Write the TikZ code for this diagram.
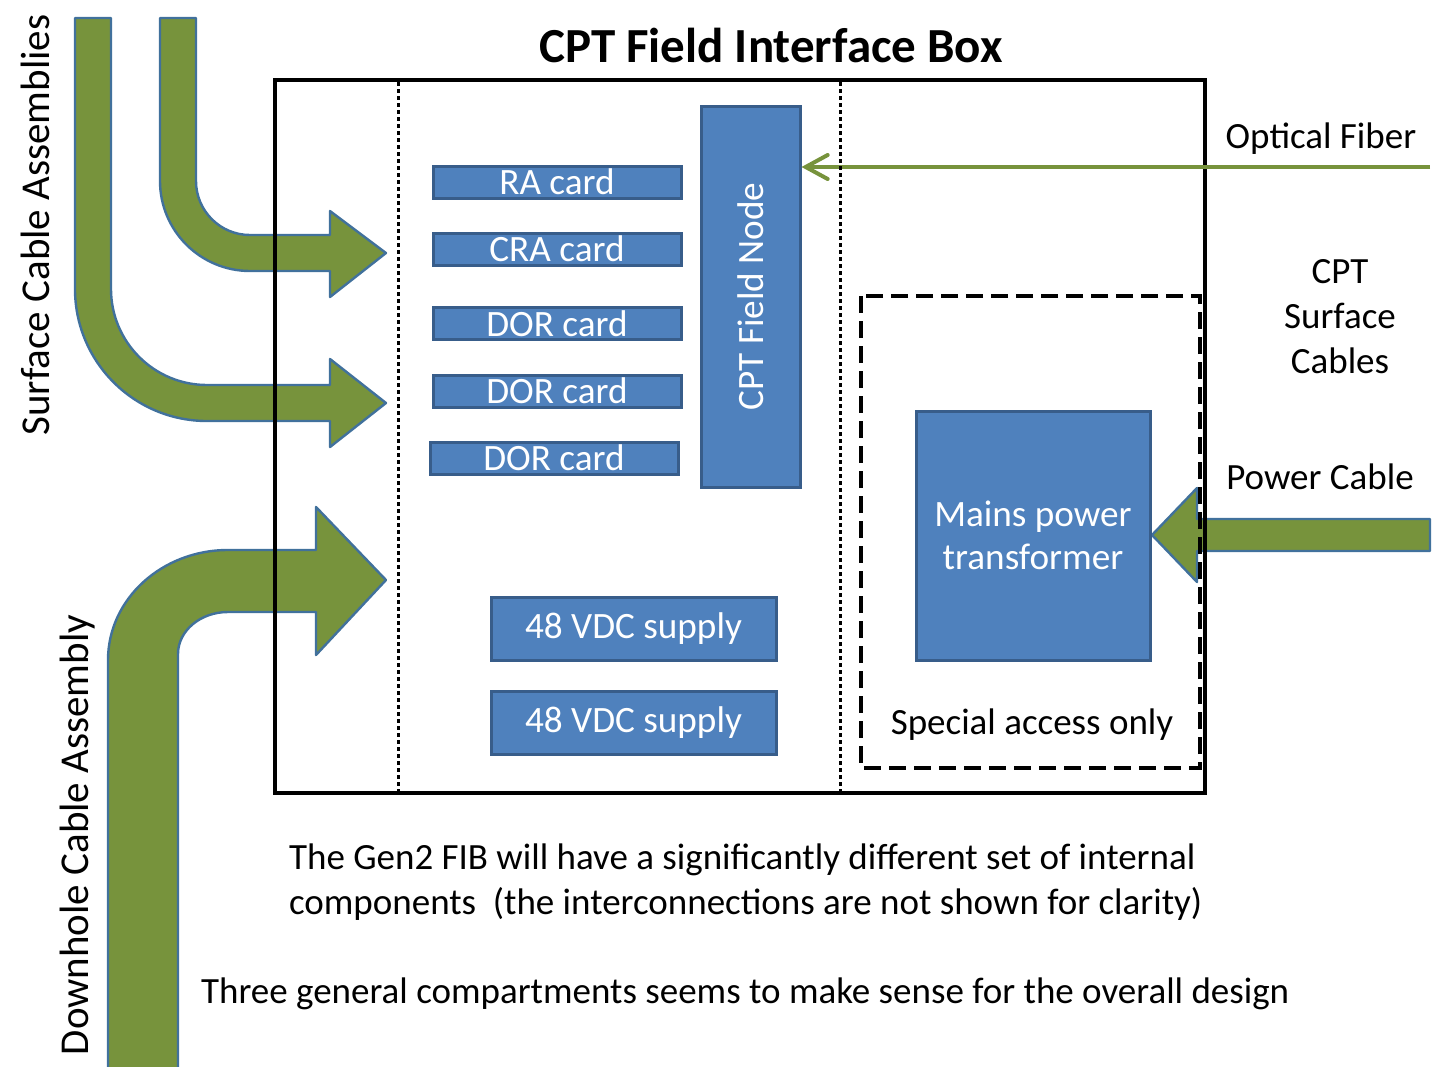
\documentclass[tikz,border=0pt]{standalone}
\usepackage{fontspec}
\setmainfont{Carlito}
\usetikzlibrary{arrows.meta}
\definecolor{partblue}{HTML}{4F81BD}
\definecolor{partedge}{HTML}{385D8A}
\definecolor{cablegreen}{HTML}{77933C}
\definecolor{cableedge}{HTML}{41719C}

\begin{document}
\begin{tikzpicture}[
  x=0.5pt, y=-0.5pt,
  part/.style={draw=partedge, fill=partblue, line width=1.5pt, text=white, inner sep=0pt, font=\fontsize{18.6}{21.5}\selectfont},
  cable/.style={draw=cableedge, fill=cablegreen, line width=1.2pt, line join=round},
  lbl/.style={font=\fontsize{18.5}{22.5}\selectfont, align=center},
  divider/.style={line width=1.5pt, dash pattern=on 2pt off 1.5pt},
  fiberline/.style={-{Straight Barb[length=11pt, width=12pt, line width=2pt, line cap=round]}, draw=cablegreen, line width=2pt}
]
  \useasboundingbox (0,0) rectangle (1440,1066);

  % cable assemblies entering from the left
  \path[cable] (160,18) -- (196,18) -- (196,181) arc[start angle=180, end angle=90, radius=54]
    -- (330,235) -- (330,211) -- (386,253) -- (330,297) -- (330,271) -- (250,271)
    arc[start angle=90, end angle=180, radius=90] -- cycle;
  \path[cable] (75,18) -- (111,18) -- (111,289) arc[start angle=180, end angle=90, radius=96]
    -- (330,385) -- (330,359) -- (386,403) -- (330,447) -- (330,421) -- (207,421)
    arc[start angle=90, end angle=180, radius=132] -- cycle;
  \path[cable] (108,1070) -- (108,660) arc[start angle=180, end angle=270, x radius=120, y radius=110]
    -- (316,550) -- (316,507) -- (386,580) -- (316,655) -- (316,612) -- (228,612)
    arc[start angle=270, end angle=180, x radius=50, y radius=42] -- (178,1070) -- cycle;

  % power cable
  \path[cable] (1430,519) -- (1197,519) -- (1197,488) -- (1152,535) -- (1197,582) -- (1197,551) -- (1430,551) -- cycle;

  \node[draw, line width=2pt, minimum width=465pt, minimum height=356.5pt] (fib) at (740,436.5) {};
  \node[font=\fontsize{24.5}{30}\selectfont\bfseries] (title) at (771,45) {CPT Field Interface Box};

  \node[part, minimum width=124pt, minimum height=16pt] (ra) at (557,182) {RA card};
  \node[part, minimum width=124pt, minimum height=16pt] (cra) at (557,249) {CRA card};
  \node[part, minimum width=124pt, minimum height=16pt] (dor1) at (557,323.5) {DOR card};
  \node[part, minimum width=124pt, minimum height=16pt] (dor2) at (557,391) {DOR card};
  \node[part, minimum width=124pt, minimum height=16pt] (dor3) at (554,458) {DOR card};
  \node[part, minimum width=190.5pt, minimum height=49.5pt, rotate=90] (cfn) at (750.5,296.5) {CPT Field Node};
  \node[part, minimum width=142.5pt, minimum height=31.5pt] (vdc1) at (633.5,628.5) {48 VDC supply};
  \node[part, minimum width=142.5pt, minimum height=31.5pt] (vdc2) at (633.5,723) {48 VDC supply};
  \node[part, minimum width=117pt, minimum height=124.5pt, align=center] (mains) at (1033,535.5) {Mains power\\transformer};

  \coordinate (fiberin) at (1430,167);
  \draw[fiberline] (fiberin) -- (cfn.south |- fiberin);

  \draw[divider] (398,82) -- (398,791);
  \draw[divider] (840,82) -- (840,791);
  \draw[line width=2.2pt, dash pattern=on 8.5pt off 4pt] (861,296) rectangle (1200,768);

  \node[lbl] (optical) at (1321,139) {Optical Fiber};
  \node[lbl] (surf) at (1340,317) {CPT\\Surface\\Cables};
  \node[lbl] (power) at (1320,477) {Power Cable};
  \node[lbl] (special) at (1032,725) {Special access only};
  \node[lbl, rotate=90, font=\fontsize{20.5}{24}\selectfont] (sca) at (35,225) {Surface Cable Assemblies};
  \node[lbl, rotate=90, font=\fontsize{20.5}{24}\selectfont] (dca) at (78,835) {Downhole Cable Assembly};
  \node[lbl, align=left, anchor=west] (note1) at (282,882) {The Gen2 FIB will have a significantly different set of internal\\components\ \ (the interconnections are not shown for clarity)};
  \node[lbl, anchor=west] (note2) at (194,994) {Three general compartments seems to make sense for the overall design};
\end{tikzpicture}
\end{document}
